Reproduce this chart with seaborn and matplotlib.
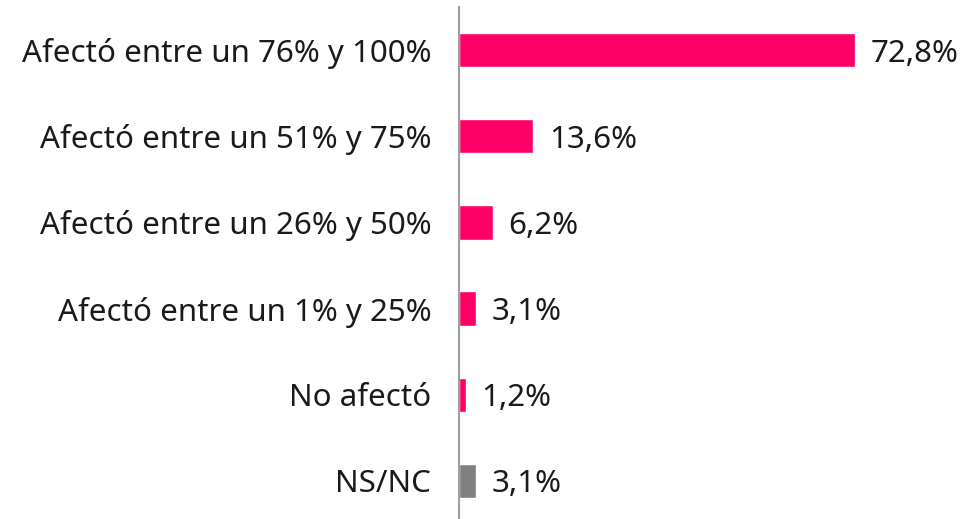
import matplotlib
matplotlib.use("Agg")
import matplotlib.pyplot as plt
import seaborn as sns
import pandas as pd

categories = ["Afectó entre un 76% y 100%", "Afectó entre un 51% y 75%",
              "Afectó entre un 26% y 50%", "Afectó entre un 1% y 25%",
              "No afectó", "NS/NC"]
values = [72.8, 13.6, 6.2, 3.1, 1.2, 3.1]
labels = ["72,8%", "13,6%", "6,2%", "3,1%", "1,2%", "3,1%"]
colors = ["#FF0066", "#FF0066", "#FF0066", "#FF0066", "#FF0066", "#808080"]

sns.set_theme(style="white")
plt.rcParams['font.family'] = ['Noto Sans', 'DejaVu Sans']

df = pd.DataFrame({"cat": categories, "val": values})

fig = plt.figure(figsize=(9.78, 5.19), dpi=100)
ax = fig.add_axes([459/978, -5/519, 1 - 459/978, (519 + 5 - 7)/519])
sns.barplot(data=df, y="cat", x="val", hue="cat", palette=colors, legend=False,
            orient="h", width=0.4, ax=ax, saturation=1)
ax.set_xlim(0, 519/5.44)
ax.set_ylim(5.5, -0.5)
for s in ["top", "right", "bottom"]:
    ax.spines[s].set_visible(False)
ax.spines["left"].set_color("#A0A0A0")
ax.spines["left"].set_linewidth(1.5)
ax.set_xticks([])
ax.set_xlabel("")
ax.set_ylabel("")
ax.tick_params(axis="y", length=0, pad=20, labelsize=22.5, labelcolor="#1a1a1a")
for lbl in ax.get_yticklabels():
    lbl.set_fontweight("light")
for i, (v, l) in enumerate(zip(values, labels)):
    ax.text(v + 2.9, i + 0.04, l, va="center", ha="left", fontsize=22.5,
            color="#1a1a1a", fontweight="light")
fig.savefig("out.png", dpi=100)
